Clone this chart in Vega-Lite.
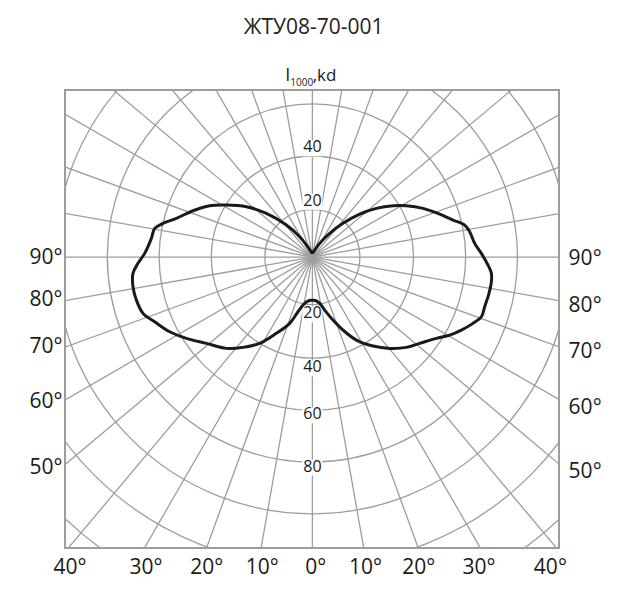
{
  "$schema": "https://vega.github.io/schema/vega-lite/v6.json",
  "description": "Polar luminous intensity diagram, ЖТУ08-70-001",
  "width": 494,
  "height": 458,
  "autosize": "none",
  "padding": {"left": 65, "top": 90, "right": 70, "bottom": 42},
  "background": "white",
  "datasets": {
    "circles": [
      {"cx": 0, "cy": 0, "r": 20},
      {"cx": 0, "cy": 0, "r": 40},
      {"cx": 0, "cy": 0, "r": 60},
      {"cx": 0, "cy": 0, "r": 80},
      {"cx": 0, "cy": 0, "r": 100},
      {"cx": 0, "cy": 0, "r": 120},
      {"cx": 0, "cy": 0, "r": 140}
    ],
    "rays": [
      {"x": 200, "y": 0, "x2": -200, "y2": 0},
      {"x": 196.96, "y": 34.73, "x2": -196.96, "y2": -34.73},
      {"x": 187.94, "y": 68.4, "x2": -187.94, "y2": -68.4},
      {"x": 173.21, "y": 100, "x2": -173.21, "y2": -100},
      {"x": 153.21, "y": 128.56, "x2": -153.21, "y2": -128.56},
      {"x": 128.56, "y": 153.21, "x2": -128.56, "y2": -153.21},
      {"x": 100, "y": 173.21, "x2": -100, "y2": -173.21},
      {"x": 68.4, "y": 187.94, "x2": -68.4, "y2": -187.94},
      {"x": 34.73, "y": 196.96, "x2": -34.73, "y2": -196.96},
      {"x": 0, "y": 200, "x2": 0, "y2": -200},
      {"x": -34.73, "y": 196.96, "x2": 34.73, "y2": -196.96},
      {"x": -68.4, "y": 187.94, "x2": 68.4, "y2": -187.94},
      {"x": -100, "y": 173.21, "x2": 100, "y2": -173.21},
      {"x": -128.56, "y": 153.21, "x2": 128.56, "y2": -153.21},
      {"x": -153.21, "y": 128.56, "x2": 153.21, "y2": -128.56},
      {"x": -173.21, "y": 100, "x2": 173.21, "y2": -100},
      {"x": -187.94, "y": 68.4, "x2": 187.94, "y2": -68.4},
      {"x": -196.96, "y": 34.73, "x2": 196.96, "y2": -34.73}
    ],
    "curve": [
      {"i": 1, "x": 0, "y": 1.44},
      {"i": 2, "x": 2.84, "y": 5.33},
      {"i": 3, "x": 6.73, "y": 9.22},
      {"i": 4, "x": 11.91, "y": 13.11},
      {"i": 5, "x": 18.4, "y": 16.73},
      {"i": 6, "x": 24.9, "y": 18.95},
      {"i": 7, "x": 31.36, "y": 19.96},
      {"i": 8, "x": 36.58, "y": 19.96},
      {"i": 9, "x": 43.04, "y": 18.95},
      {"i": 10, "x": 49.53, "y": 16.73},
      {"i": 11, "x": 54.71, "y": 14.4},
      {"i": 12, "x": 59.26, "y": 12.45},
      {"i": 13, "x": 61.21, "y": 9.84},
      {"i": 14, "x": 63.15, "y": 5.33},
      {"i": 15, "x": 65.76, "y": 1.44},
      {"i": 16, "x": 68.33, "y": -3.11},
      {"i": 17, "x": 69.65, "y": -6.34},
      {"i": 18, "x": 69.65, "y": -9.61},
      {"i": 19, "x": 68.72, "y": -14.12},
      {"i": 20, "x": 67.04, "y": -19.34},
      {"i": 21, "x": 65.76, "y": -23.23},
      {"i": 22, "x": 62.49, "y": -25.8},
      {"i": 23, "x": 57.98, "y": -28.4},
      {"i": 24, "x": 53.42, "y": -30.35},
      {"i": 25, "x": 48.25, "y": -31.63},
      {"i": 26, "x": 41.75, "y": -33.58},
      {"i": 27, "x": 36.58, "y": -35.14},
      {"i": 28, "x": 30.08, "y": -35.53},
      {"i": 29, "x": 23.58, "y": -34.63},
      {"i": 30, "x": 17.12, "y": -32.3},
      {"i": 31, "x": 11.91, "y": -28.4},
      {"i": 32, "x": 8.02, "y": -24.51},
      {"i": 33, "x": 4.79, "y": -20.62},
      {"i": 34, "x": 2.84, "y": -18.02},
      {"i": 35, "x": 1.2, "y": -16.9},
      {"i": 36, "x": 0, "y": -16.8},
      {"i": 37, "x": -1.2, "y": -16.9},
      {"i": 38, "x": -3.0, "y": -18.02},
      {"i": 39, "x": -5.6, "y": -21.28},
      {"i": 40, "x": -8.83, "y": -25.8},
      {"i": 41, "x": -14.01, "y": -29.69},
      {"i": 42, "x": -20.51, "y": -33.58},
      {"i": 43, "x": -27.0, "y": -35.14},
      {"i": 44, "x": -33.46, "y": -35.53},
      {"i": 45, "x": -41.25, "y": -33.58},
      {"i": 46, "x": -49.03, "y": -31.63},
      {"i": 47, "x": -55.53, "y": -29.07},
      {"i": 48, "x": -61.36, "y": -25.18},
      {"i": 49, "x": -65.91, "y": -21.91},
      {"i": 50, "x": -68.48, "y": -16.73},
      {"i": 51, "x": -69.81, "y": -11.56},
      {"i": 52, "x": -69.81, "y": -6.34},
      {"i": 53, "x": -67.86, "y": -2.45},
      {"i": 54, "x": -65.25, "y": 1.44},
      {"i": 55, "x": -62.65, "y": 7.28},
      {"i": 56, "x": -61.36, "y": 11.17},
      {"i": 57, "x": -58.13, "y": 13.11},
      {"i": 58, "x": -52.92, "y": 15.06},
      {"i": 59, "x": -46.46, "y": 18.02},
      {"i": 60, "x": -39.96, "y": 19.96},
      {"i": 61, "x": -33.46, "y": 20.23},
      {"i": 62, "x": -25.68, "y": 19.57},
      {"i": 63, "x": -17.9, "y": 17.0},
      {"i": 64, "x": -10.12, "y": 12.45},
      {"i": 65, "x": -4.94, "y": 7.9},
      {"i": 66, "x": 0, "y": 1.44}
    ],
    "rings": [
      {"t": "40", "x": 0, "y": 42.7},
      {"t": "20", "x": 0, "y": 21.9},
      {"t": "20", "x": 0, "y": -21.9},
      {"t": "40", "x": 0, "y": -42.9},
      {"t": "60", "x": 0, "y": -61.2},
      {"t": "80", "x": 0, "y": -81.5}
    ],
    "leftDeg": [
      {"t": "90°", "x": -97.2, "y": -0.5},
      {"t": "80°", "x": -97.2, "y": -16.7},
      {"t": "70°", "x": -97.2, "y": -34.9},
      {"t": "60°", "x": -97.2, "y": -56.3},
      {"t": "50°", "x": -97.2, "y": -82.2}
    ],
    "rightDeg": [
      {"t": "90°", "x": 99.7, "y": -0.9},
      {"t": "80°", "x": 99.7, "y": -18.9},
      {"t": "70°", "x": 99.7, "y": -36.8},
      {"t": "60°", "x": 99.7, "y": -58.6},
      {"t": "50°", "x": 99.7, "y": -83.5}
    ],
    "bottomDeg": [
      {"t": "40°", "x": -94.3, "y": -121.0},
      {"t": "30°", "x": -64.7, "y": -121.0},
      {"t": "20°", "x": -41.1, "y": -121.0},
      {"t": "10°", "x": -19.5, "y": -121.0},
      {"t": "0°", "x": 1.3, "y": -121.0},
      {"t": "10°", "x": 20.7, "y": -121.0},
      {"t": "20°", "x": 41.4, "y": -121.0},
      {"t": "30°", "x": 64.8, "y": -121.0},
      {"t": "40°", "x": 92.6, "y": -121.0}
    ],
    "heading": [{"t": "ЖТУ08-70-001", "x": 0.5, "y": 89.1}],
    "unitI": [{"t": "I", "x": -10.6, "y": 68.5}],
    "unitSub": [{"t": "1000", "x": -8.6, "y": 66.5}],
    "unitKd": [{"t": ",kd", "x": 0.1, "y": 68.5}]
  },
  "layer": [
    {
      "data": {"name": "circles"},
      "mark": {"type": "point", "shape": "circle", "filled": false, "stroke": "#9d9d9d", "strokeWidth": 1.3, "opacity": 1, "clip": true},
      "encoding": {
        "x": {"field": "cx", "type": "quantitative", "scale": {"domain": [-96.26, 95.96], "nice": false, "zero": false}, "axis": null},
        "y": {"field": "cy", "type": "quantitative", "scale": {"domain": [-113.2, 65.0], "nice": false, "zero": false}, "axis": null},
        "size": {"field": "r", "type": "quantitative", "scale": {"type": "pow", "exponent": 2, "domain": [20, 140], "range": [9025, 518400], "zero": false}, "legend": null}
      }
    },
    {
      "data": {"name": "rays"},
      "mark": {"type": "rule", "color": "#9d9d9d", "strokeWidth": 1.3, "clip": true},
      "encoding": {
        "x": {"field": "x", "type": "quantitative", "scale": {"domain": [-96.26, 95.96], "nice": false, "zero": false}, "axis": null},
        "y": {"field": "y", "type": "quantitative", "scale": {"domain": [-113.2, 65.0], "nice": false, "zero": false}, "axis": null},
        "x2": {"field": "x2"},
        "y2": {"field": "y2"}
      }
    },
    {
      "data": {"name": "rings"},
      "mark": {"type": "point", "shape": "M-1,-0.7L1,-0.7L1,0.9L-1,0.9Z", "size": 400, "filled": true, "fill": "white", "opacity": 1, "strokeWidth": 0},
      "encoding": {
        "x": {"field": "x", "type": "quantitative"},
        "y": {"field": "y", "type": "quantitative"}
      }
    },
    {
      "data": {"name": "rings"},
      "mark": {"type": "text", "font": "Open Sans", "fontSize": 16, "color": "#1a1a1a", "align": "center", "baseline": "middle"},
      "encoding": {
        "x": {"field": "x", "type": "quantitative"},
        "y": {"field": "y", "type": "quantitative"},
        "text": {"field": "t"}
      }
    },
    {
      "data": {"name": "curve"},
      "mark": {"type": "line", "color": "#1a1a1a", "strokeWidth": 3, "interpolate": "catmull-rom", "clip": true},
      "encoding": {
        "x": {"field": "x", "type": "quantitative"},
        "y": {"field": "y", "type": "quantitative"},
        "order": {"field": "i", "type": "quantitative"}
      }
    },
    {
      "data": {"name": "leftDeg"},
      "mark": {"type": "text", "font": "Open Sans", "fontSize": 21, "color": "#1a1a1a", "align": "right", "baseline": "middle"},
      "encoding": {
        "x": {"field": "x", "type": "quantitative"},
        "y": {"field": "y", "type": "quantitative"},
        "text": {"field": "t"}
      }
    },
    {
      "data": {"name": "rightDeg"},
      "mark": {"type": "text", "font": "Open Sans", "fontSize": 21, "color": "#1a1a1a", "align": "left", "baseline": "middle"},
      "encoding": {
        "x": {"field": "x", "type": "quantitative"},
        "y": {"field": "y", "type": "quantitative"},
        "text": {"field": "t"}
      }
    },
    {
      "data": {"name": "bottomDeg"},
      "mark": {"type": "text", "font": "Open Sans", "fontSize": 21, "color": "#1a1a1a", "align": "center", "baseline": "middle"},
      "encoding": {
        "x": {"field": "x", "type": "quantitative"},
        "y": {"field": "y", "type": "quantitative"},
        "text": {"field": "t"}
      }
    },
    {
      "data": {"name": "heading"},
      "mark": {"type": "text", "font": "Open Sans", "fontSize": 21, "color": "#222222", "align": "center", "baseline": "middle"},
      "encoding": {
        "x": {"field": "x", "type": "quantitative"},
        "y": {"field": "y", "type": "quantitative"},
        "text": {"field": "t"}
      }
    },
    {
      "data": {"name": "unitI"},
      "mark": {"type": "text", "font": "Open Sans", "fontSize": 18, "color": "#1a1a1a", "align": "left", "baseline": "alphabetic"},
      "encoding": {
        "x": {"field": "x", "type": "quantitative"},
        "y": {"field": "y", "type": "quantitative"},
        "text": {"field": "t"}
      }
    },
    {
      "data": {"name": "unitSub"},
      "mark": {"type": "text", "font": "Open Sans", "fontSize": 10, "color": "#1a1a1a", "align": "left", "baseline": "alphabetic"},
      "encoding": {
        "x": {"field": "x", "type": "quantitative"},
        "y": {"field": "y", "type": "quantitative"},
        "text": {"field": "t"}
      }
    },
    {
      "data": {"name": "unitKd"},
      "mark": {"type": "text", "font": "Open Sans", "fontSize": 17, "color": "#1a1a1a", "align": "left", "baseline": "alphabetic"},
      "encoding": {
        "x": {"field": "x", "type": "quantitative"},
        "y": {"field": "y", "type": "quantitative"},
        "text": {"field": "t"}
      }
    }
  ],
  "config": {
    "view": {"stroke": "#9d9d9d", "strokeWidth": 2},
    "text": {"font": "Open Sans"}
  }
}
